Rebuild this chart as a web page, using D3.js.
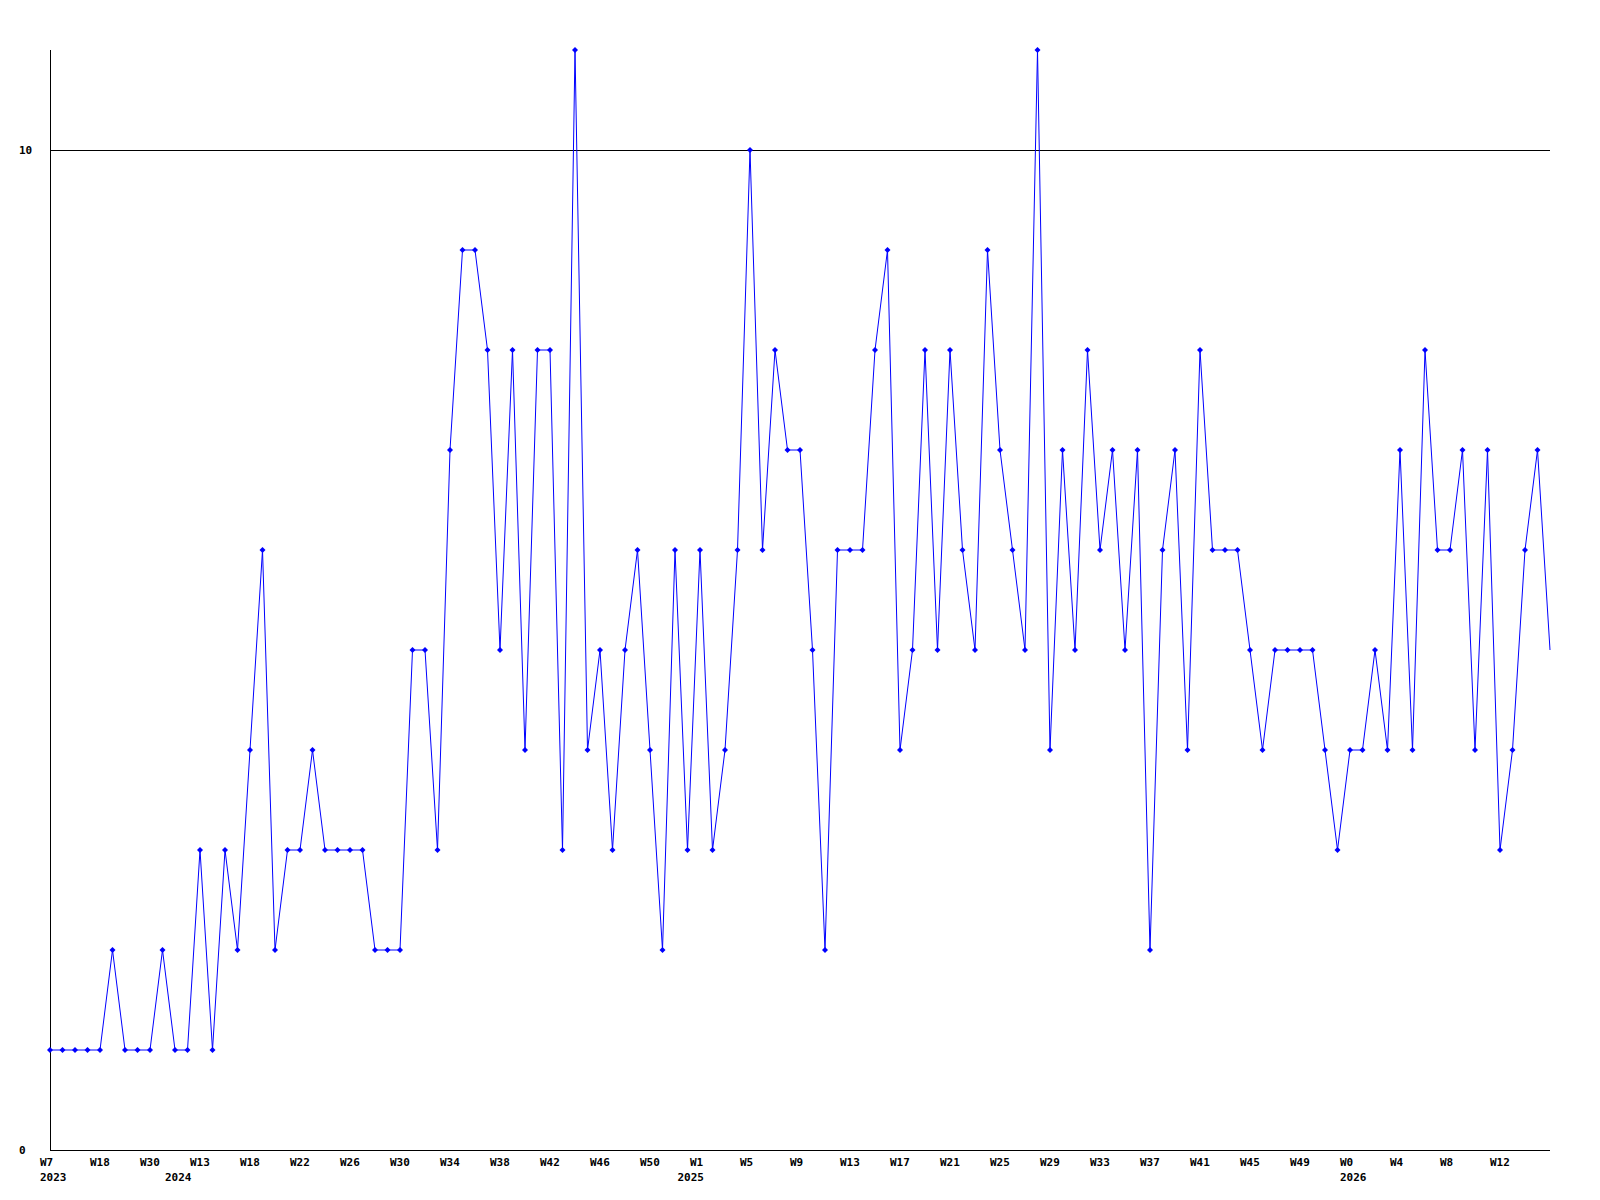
<!DOCTYPE html>
<html>
<head>
<meta charset="utf-8">
<script src="https://cdn.jsdelivr.net/npm/d3@7"></script>
<style>
  body { margin: 0; background: #fff; }
  svg text { font-family: "DejaVu Sans Mono", monospace; font-weight: bold; font-size: 11px; fill: #000; }
</style>
</head>
<body>
<svg id="chart" width="1600" height="1200"></svg>
<script>

// weekly counts, one per week
var values = [1,1,1,1,1,2,1,1,1,2,1,1,3,1,3,2,4,6,2,3,
	3,4,3,3,3,3,2,2,2,5,5,3,7,9,9,8,5,8,4,8,
	8,3,11,4,5,3,5,6,4,2,6,3,6,3,4,6,10,6,8,7,
	7,5,2,6,6,6,8,9,4,5,8,5,8,6,5,9,7,6,5,11,
	4,7,5,8,6,7,5,7,2,6,7,4,8,6,6,6,5,4,5,5,
	5,5,4,3,4,4,5,4,7,4,8,6,6,7,4,7,3,4,6,7,5];

// one label every 4 weeks
var weekLabels = ["W7","W18","W30","W13","W18","W22","W26","W30","W34","W38",
	"W42","W46","W50","W1","W5","W9","W13","W17","W21","W25",
	"W29","W33","W37","W41","W45","W49","W0","W4","W8","W12"];
// year labels sit at the week where the year turns
var yearIndex = [0, 10, 51, 104];
var yearLabels = ["2023","2024","2025","2026"];
var yTicks = [0, 10];

var svg = d3.select("#chart");

var x = d3.scaleLinear().domain([0, values.length - 1]).range([50, 1550]);
var y = d3.scaleLinear().domain([0, 11]).range([1150, 50]);

// gridline at 10
svg.append("line")
	.attr("x1", 50).attr("x2", 1550)
	.attr("y1", y(10) + 0.5).attr("y2", y(10) + 0.5)
	.attr("stroke", "#000").attr("stroke-width", 1);

// axes
svg.append("line")
	.attr("x1", 50.5).attr("x2", 50.5)
	.attr("y1", 50).attr("y2", 1150)
	.attr("stroke", "#000");
svg.append("line")
	.attr("x1", 50).attr("x2", 1550)
	.attr("y1", 1150.5).attr("y2", 1150.5)
	.attr("stroke", "#000");

svg.selectAll("text.ylab")
	.data(yTicks)
	.enter()
	.append("text")
	.attr("class", "ylab")
	.attr("x", 19)
	.attr("y", function(d){ return y(d) + 4; })
	.text(function(d){ return d; });

svg.selectAll("text.wk")
	.data(weekLabels)
	.enter()
	.append("text")
	.attr("class", "wk")
	.attr("x", function(d, i){ return x(i * 4) - 10; })
	.attr("y", 1166)
	.text(function(d){ return d; });

svg.selectAll("text.yr")
	.data(yearLabels)
	.enter()
	.append("text")
	.attr("class", "yr")
	.attr("x", function(d, i){ return x(yearIndex[i]) - 10; })
	.attr("y", 1181)
	.text(function(d){ return d; });

// the series
var line = d3.line()
	.x(function(d, i){ return x(i); })
	.y(function(d){ return y(d); });

svg.append("path")
	.datum(values)
	.attr("d", line)
	.attr("fill", "none")
	.attr("stroke", "#0000ff")
	.attr("stroke-width", 1);

// markers (last, partial week has none)
svg.selectAll("path.pt")
	.data(values.slice(0, values.length - 1))
	.enter()
	.append("path")
	.attr("class", "pt")
	.attr("d", function(d, i){
		var cx = x(i), cy = y(d);
		return "M" + (cx - 3) + "," + cy + "L" + cx + "," + (cy - 3) +
			"L" + (cx + 3) + "," + cy + "L" + cx + "," + (cy + 3) + "Z";
	})
	.attr("fill", "#0000ff");

</script>
</body>
</html>
